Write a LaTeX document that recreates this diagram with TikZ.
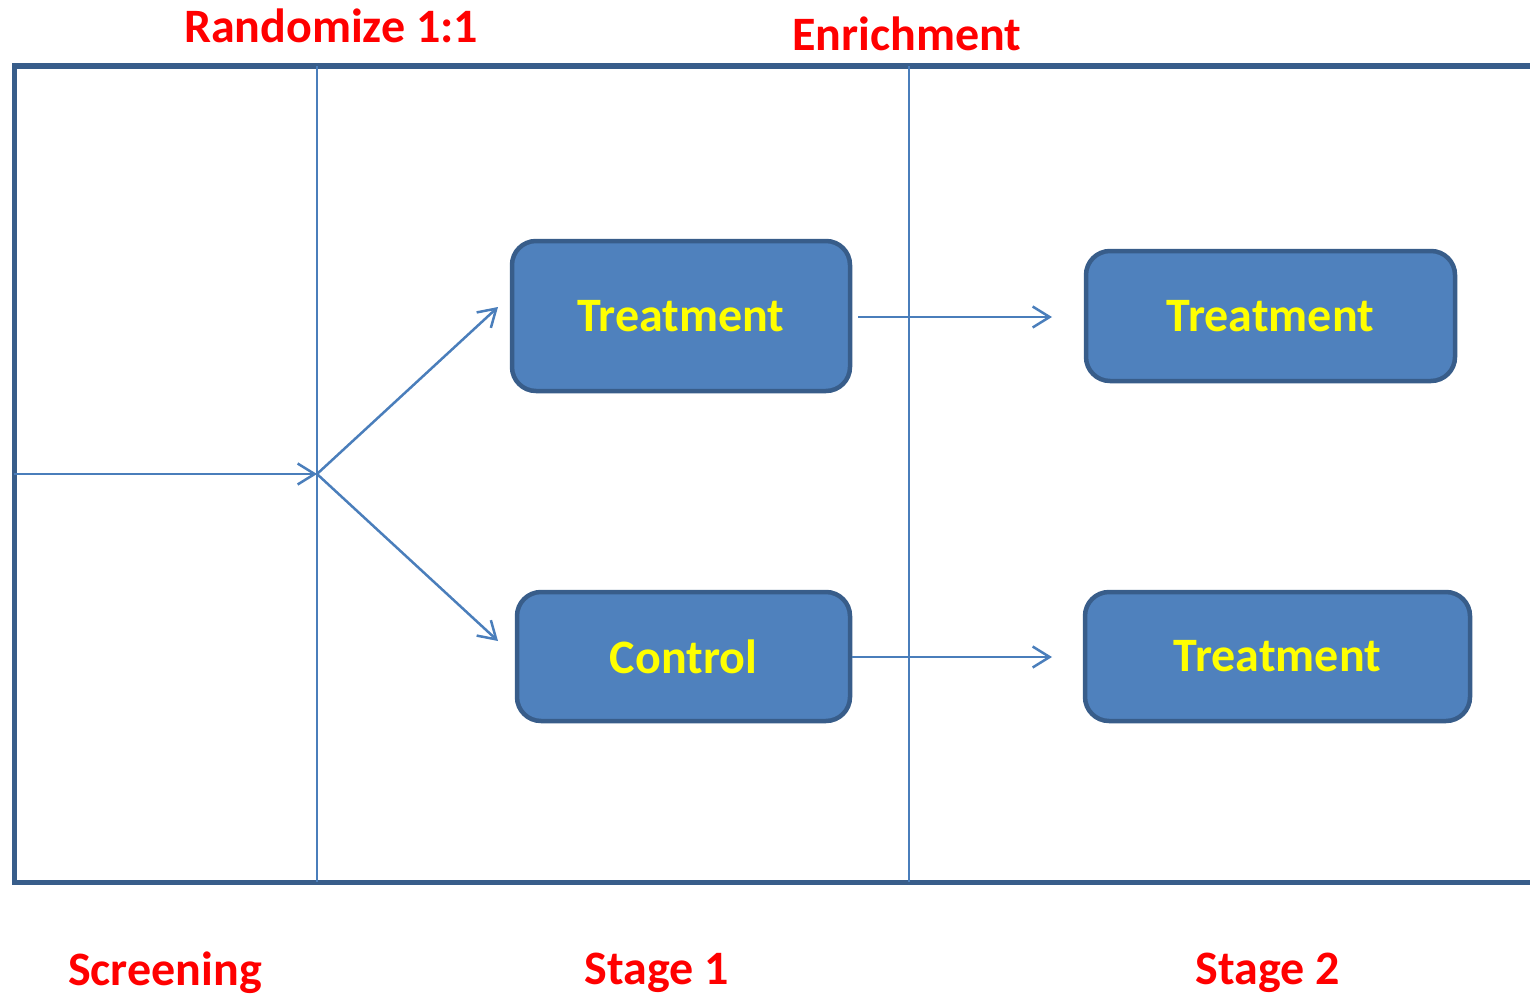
\documentclass[tikz,border=0pt]{standalone}
\usepackage{fontspec}
\setmainfont{Carlito}
\usetikzlibrary{arrows.meta}
\definecolor{framec}{HTML}{385D8A}
\definecolor{linec}{HTML}{4A7EBB}
\definecolor{boxfill}{HTML}{4F81BD}
\definecolor{lbl}{HTML}{FF0000}
\definecolor{ytext}{HTML}{FFFF00}
\begin{document}
\begin{tikzpicture}[x=1pt,y=-1pt,
  frameline/.style={draw=framec,line width=5pt},
  divider/.style={draw=linec,line width=2pt},
  conn/.style={draw=linec,line width=2.5pt,-{Straight Barb[length=17pt,width=21pt,line width=2.5pt]}},
  armbox/.style={draw=framec,fill=boxfill,line width=4.5pt,rounded corners=24pt,inner sep=0pt,
    font=\bfseries\fontsize{48}{57}\selectfont,text=ytext},
  steplabel/.style={font=\bfseries\fontsize{48}{57}\selectfont,text=lbl,inner sep=0pt}]
\useasboundingbox (0,0) rectangle (1530,998);
% frame
\draw[frameline] (1532,66) -- (14,66) -- (14,882) -- (1532,882);
% dividers
\coordinate (rtop) at (317,66);
\coordinate (rbot) at (317,882);
\coordinate (etop) at (909,66);
\coordinate (ebot) at (909,882);
\draw[divider] (rtop) -- (rbot);
\draw[divider] (etop) -- (ebot);
% boxes
\node[armbox,minimum width=338pt,minimum height=150pt] (t1) at (681,316) {Treatment};
\node[armbox,minimum width=333pt,minimum height=129pt] (c1) at (683.5,656.5) {Control};
\node[armbox,minimum width=369pt,minimum height=130pt] (t2) at (1270.5,316) {Treatment};
\node[armbox,minimum width=385pt,minimum height=129pt] (t3) at (1277.5,656.5) {Treatment};
% connectors
\coordinate (start) at (14,474);
\coordinate (split) at (317,474);
\coordinate (e1) at (498,307);
\coordinate (e2) at (498,641);
\coordinate (s3) at (858,317);
\coordinate (e3) at (1052,317);
\coordinate (e4) at (1052,657);
\draw[conn] (start) -- (split);
\draw[conn] (split) -- (e1);
\draw[conn] (split) -- (e2);
\draw[conn] (s3) -- (e3);
\draw[conn] (c1.east |- e4) -- (e4);
% labels
\node[steplabel] (rand) at (331,26) {Randomize 1:1};
\node[steplabel] (enr) at (907,34) {Enrichment};
\node[steplabel] (scr) at (165,973) {Screening};
\node[steplabel] (st1) at (657,973) {Stage 1};
\node[steplabel] (st2) at (1268,973) {Stage 2};
\end{tikzpicture}
\end{document}
